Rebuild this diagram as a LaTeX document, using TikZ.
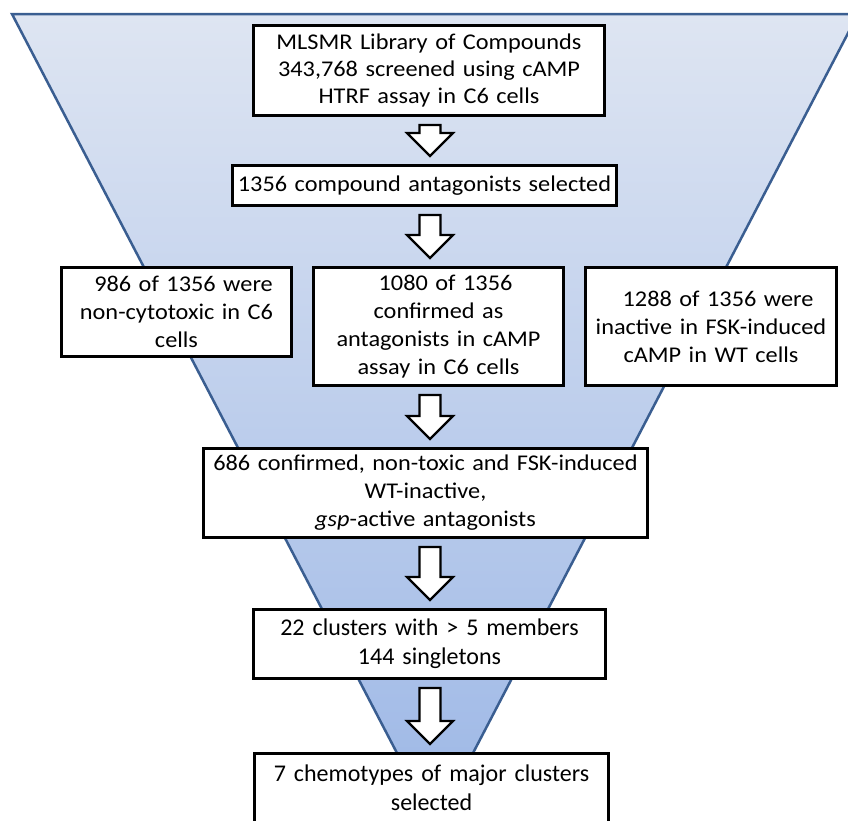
\documentclass[tikz,border=0pt]{standalone}
\usepackage{fontspec}
\setmainfont{Carlito}
\newfontfamily\upfont{Carlito}[FakeStretch=1.08, WordSpace=0.55]
\usetikzlibrary{calc}
\definecolor{funtop}{RGB}{222,229,242}
\definecolor{funbot}{RGB}{156,183,230}
\definecolor{funedge}{RGB}{58,94,145}
\tikzset{
  box/.style={draw=black, line width=3pt, fill=white, align=center, inner sep=0pt,
              font=\upfont\fontsize{22.5}{28}\selectfont},
  lowbox/.style={box, font=\fontsize{24}{29}\selectfont},
  flowarrow/.style={draw=black, line width=2.2pt, fill=white, line join=miter},
}
\newcommand{\flowarr}[2]{%
  \draw[flowarrow] let \p1=(ax |- #1.south), \p2=(ax |- #2.north) in
    (\x1-10.5pt,\y1-8pt) -- (\x1-10.5pt,\y2+31pt) -- (\x1-23pt,\y2+31pt) --
    (\x1,\y2+8pt) -- (\x1+23pt,\y2+31pt) -- (\x1+10.5pt,\y2+31pt) --
    (\x1+10.5pt,\y1-8pt) -- cycle;}
\begin{document}
\begin{tikzpicture}[x=1pt,y=-1pt]
\useasboundingbox (0,0) rectangle (848,820);
% funnel
\shade[top color=funtop, bottom color=funbot] (12,14) -- (858,14) -- (435,826) -- cycle;
\draw[funedge, line width=2.5pt, line join=miter] (12,14) -- (858,14) -- (435,826) -- cycle;
\coordinate (ax) at (430,0);
% boxes
\node[box, text width=351pt, minimum height=90pt, font=\upfont\fontsize{22.5}{27}\selectfont] (b1) at (429,70.5)
  {MLSMR Library of Compounds\\343,768 screened using cAMP\\HTRF assay in C6 cells};
\node[box, text width=384pt, minimum height=40pt] (b2) at (424.5,185.5)
  {1356 compound antagonists selected};
\node[box, text width=230pt, minimum height=89pt] (b3) at (176.5,312)
  {\hspace*{14pt}986 of 1356 were\\non-cytotoxic in C6\\cells};
\node[box, text width=250pt, minimum height=118pt] (b4) at (438.5,326.5)
  {\hspace*{14pt}1080 of 1356\\confirmed as\\antagonists in cAMP\\assay in C6 cells};
\node[box, text width=251pt, minimum height=118pt] (b5) at (711,326.5)
  {\hspace*{14pt}1288 of 1356 were\\inactive in FSK-induced\\cAMP in WT cells};
\node[box, text width=444pt, minimum height=89pt] (b6) at (425.5,493)
  {686 confirmed, non-toxic and FSK-induced\\WT-inactive,\\\textit{gsp}-active antagonists};
\node[lowbox, text width=352pt, minimum height=69pt] (b7) at (429.5,644)
  {22 clusters with > 5 members\\144 singletons};
\node[lowbox, text width=354pt, minimum height=69pt] (b8) at (431.5,788)
  {7 chemotypes of major clusters\\selected};
% arrows
\flowarr{b1}{b2}
\flowarr{b2}{b4}
\flowarr{b4}{b6}
\flowarr{b6}{b7}
\flowarr{b7}{b8}
\end{tikzpicture}
\end{document}
